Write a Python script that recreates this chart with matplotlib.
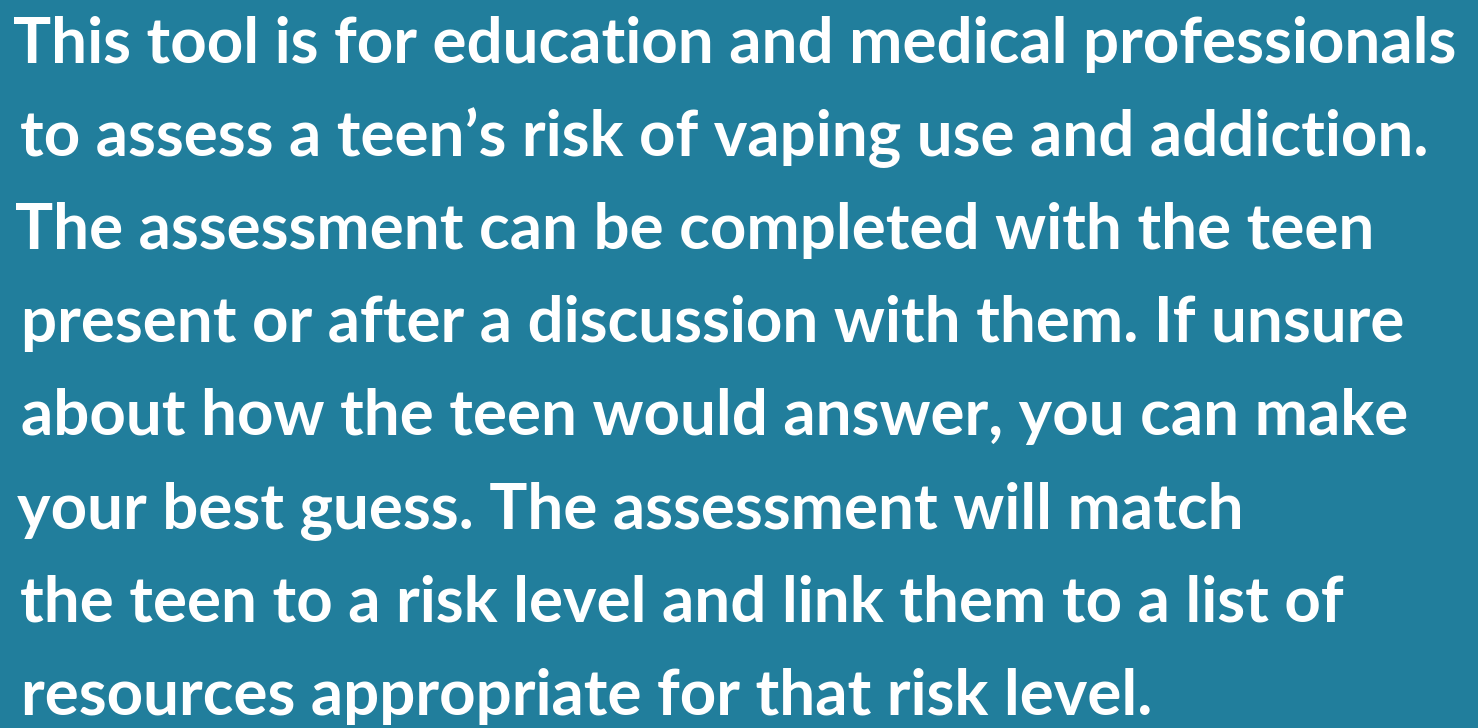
import matplotlib
matplotlib.use("Agg")
from matplotlib import pyplot as plt

# text lines of the info card
lines = [
    "This tool is for education and medical professionals",
    "to assess a teen\u2019s risk of vaping use and addiction.",
    "The assessment can be completed with the teen",
    "present or after a discussion with them. If unsure",
    "about how the teen would answer, you can make",
    "your best guess. The assessment will match",
    "the teen to a risk level and link them to a list of",
    "resources appropriate for that risk level.",
]

W, H = 1478, 728
bg = "#217e9c"
left_x = [13, 20, 15, 21, 21, 17, 20, 21]
first_base = 63
step = 93.1
target_width = 1455 - 13

fig = plt.figure(figsize=(W / 100, H / 100), dpi=100, facecolor=bg)
ax = fig.add_axes([0, 0, 1, 1])
ax.set_xlim(0, W)
ax.set_ylim(H, 0)
ax.axis("off")
ax.set_facecolor(bg)

size = 44
texts = []
for i, line in enumerate(lines):
    t = ax.text(left_x[i], first_base + i * step, line, color="white",
                fontsize=size, fontfamily="Lato", fontweight="bold",
                ha="left", va="baseline")
    texts.append(t)

# scale font so the first line spans the same width as in the reference
fig.canvas.draw()
r = fig.canvas.get_renderer()
w = texts[0].get_window_extent(r).width
size = size * target_width / w
for t in texts:
    t.set_fontsize(size)

fig.savefig("out.png", dpi=100, facecolor=bg)
